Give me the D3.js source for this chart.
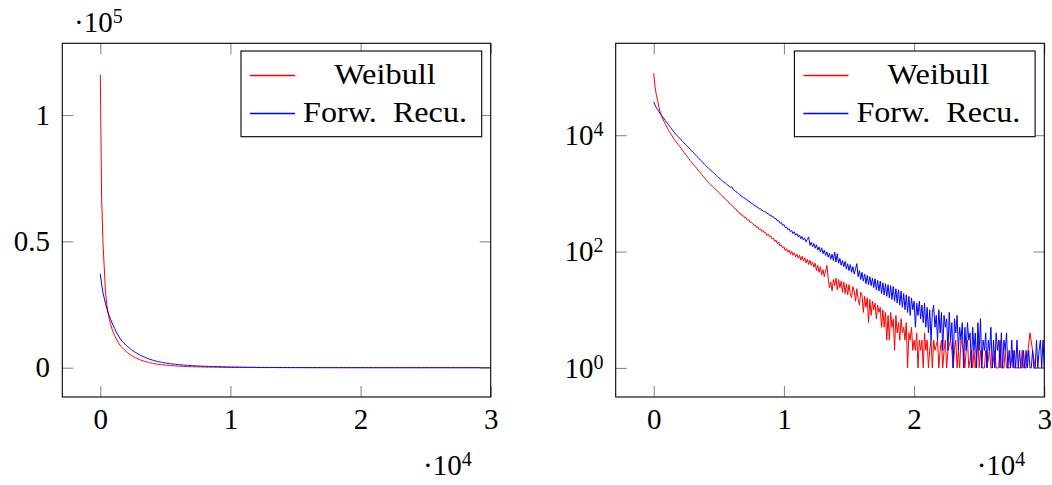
<!DOCTYPE html>
<html>
<head>
<meta charset="utf-8">
<script src="https://d3js.org/d3.v7.min.js"></script>
<style>
  body { margin: 0; background: #fff; }
</style>
</head>
<body>
<svg id="chart" width="1052" height="485"></svg>
<script>
// histogram counts, one value per bin of width binWidth, starting at 0
const binWidth = 100;

const weibull = [
  116000, 68000, 50000, 40000, 30000, 25000, 21500, 19000, 17000, 15300,
  13900, 12700, 11600, 10700, 9800, 9000, 8400, 7850, 7330, 6840,
  6380, 5960, 5560, 5190, 4840, 4520, 4220, 3940, 3670, 3470,
  3240, 3050, 2880, 2690, 2510, 2370, 2240, 2090, 1970, 1840,
  1740, 1640, 1550, 1480, 1410, 1330, 1270, 1200, 1150, 1100,
  1040, 975, 940, 880, 858, 792, 770, 731, 676, 662,
  618, 601, 548, 541, 497, 488, 446, 447, 409, 411,
  378, 381, 347, 352, 318, 322, 306, 281, 286, 259,
  266, 238, 247, 221, 231, 209, 214, 188, 201, 179,
  186, 163, 172, 150, 157, 136, 146, 124, 131, 116,
  121, 104, 112, 98, 106, 90, 101, 86, 95, 81,
  90, 77, 86, 71, 83, 69, 78, 64, 74, 60,
  71, 58, 66, 54, 63, 47, 58, 44, 55, 40,
  49, 37, 46, 58, 35, 24, 30, 21, 33, 26,
  35, 22, 33, 24, 31, 20, 30, 19, 28, 18,
  27, 19, 16, 25, 21, 14, 23, 15, 12, 20,
  18, 9, 17, 11, 16, 6, 15, 8, 14, 10,
  13, 7, 12, 9, 11, 5, 10, 5, 9, 3,
  8, 3, 9, 5, 7, 2, 8, 4, 6, 3,
  7, 4, 5, 3, 6, 1, 4, 3, 5, 2,
  3, 2, 4, 1, 3, 2, 3, 1, 4, 2,
  3, 1, 2, 3, 1, 3, 2, 0, 3, 1,
  2, 3, 1, 2, 3, 1, 2, 0, 3, 2,
  1, 2, 3, 1, 2, 1, 3, 0, 2, 1,
  2, 3, 1, 0, 2, 1, 2, 1, 0, 3,
  1, 2, 1, 0, 1, 2, 1, 0, 2, 1,
  1, 0, 2, 1, 0, 1, 3, 1, 0, 1,
  2, 1, 0, 1, 1, 0, 2, 1, 0, 1,
  1, 0, 1, 2, 1, 0, 1, 0, 0, 4,
  0, 0, 0, 1, 1, 0, 1, 1, 0, 1,
  1
];

const forwRecu = [
  37150, 33100, 29850, 27540, 25400, 23440, 21880, 20420, 19050, 17780,
  16600, 15500, 14450, 13490, 12590, 11750, 10960, 10350, 9770, 9330,
  8810, 8320, 7940, 7500, 7080, 6760, 6380, 6030, 5750, 5430,
  5130, 4900, 4620, 4370, 4170, 3940, 3720, 3550, 3350, 3160,
  3020, 2850, 2720, 2600, 2480, 2370, 2260, 2160, 2040, 1950,
  1860, 1780, 1700, 1620, 1550, 1500, 1430, 1380, 1320, 1270,
  1300, 1168, 1131, 1071, 1046, 988, 967, 902, 889, 838,
  831, 779, 772, 722, 718, 668, 663, 621, 618, 581,
  579, 541, 546, 509, 508, 479, 482, 448, 451, 418,
  426, 393, 398, 366, 369, 336, 340, 307, 314, 283,
  292, 259, 266, 238, 246, 219, 230, 203, 219, 191,
  204, 179, 192, 166, 181, 158, 170, 147, 162, 178,
  128, 145, 121, 138, 114, 131, 106, 120, 98, 116,
  92, 106, 86, 99, 80, 93, 74, 90, 70, 98,
  66, 92, 63, 76, 58, 70, 55, 68, 50, 62,
  47, 60, 44, 55, 41, 50, 62, 37, 47, 33,
  44, 31, 41, 28, 39, 27, 37, 26, 35, 24,
  34, 22, 32, 21, 31, 19, 29, 18, 28, 17,
  27, 16, 26, 15, 25, 14, 23, 13, 22, 12,
  21, 11, 19, 10, 18, 9, 17, 8, 16, 10,
  14, 5, 13, 8, 14, 7, 12, 6, 13, 5,
  11, 4, 10, 3, 9, 12, 5, 8, 3, 10,
  4, 9, 2, 8, 5, 7, 2, 9, 3, 6,
  1, 7, 4, 8, 2, 5, 3, 6, 1, 5,
  2, 6, 3, 4, 1, 5, 2, 4, 1, 6,
  2, 7, 1, 3, 2, 4, 1, 3, 2, 5,
  1, 3, 1, 4, 2, 3, 1, 4, 1, 3,
  2, 4, 1, 2, 1, 3, 1, 2, 1, 3,
  1, 2, 1, 1, 2, 1, 2, 1, 2, 1,
  1, 2, 1, 1, 3, 1, 2, 3, 1, 3,
  1
];

const seriesNames = ["Weibull", "Forw.\u2002Recu."];
const seriesColors = ["#ff0000", "#0000ff"];
const xTicks = [0, 10000, 20000, 30000];
const yTicksLin = [0, 50000, 100000];
const yTicksLog = [1, 100, 10000];

// pick the first installed face (serif preferred, like the LaTeX original)
function pickFont(list) {
  const ctx = document.createElement("canvas").getContext("2d");
  const probe = "Weibull Forw. Recu. 0123456789";
  ctx.font = "40px monospace";
  const base = ctx.measureText(probe).width;
  for (const f of list) {
    ctx.font = `40px "${f}", monospace`;
    if (Math.abs(ctx.measureText(probe).width - base) > 0.5) return f;
  }
  return "sans-serif";
}
const fontName = pickFont(["Liberation Serif", "DejaVu Serif", "Noto Serif", "Tinos", "Liberation Sans"]);
const isSerif = /Serif|Tinos/.test(fontName);
const FONT = `"${fontName}", serif`;

const svg = d3.select("#chart");
const plotTop = 43.3, plotBottom = 397;
const tickLen = 11;
const fontSize = isSerif ? 29 : 27, supSize = isSerif ? 20 : 19;

const toPoints = arr => arr.map((v, i) => ({ x: i * binWidth, y: v }));
const series = [toPoints(weibull), toPoints(forwRecu)];

function drawPanel(id, x0, x1, isLog) {
  const g = svg.append("g").attr("class", id);

  const x = d3.scaleLinear().domain([-2920, 30000]).range([x0, x1]);
  const y = isLog
    ? d3.scaleLog().domain([Math.pow(10, -0.5), Math.pow(10, 5.58)]).range([plotBottom, plotTop])
    : d3.scaleLinear().domain([-11600, 128400]).range([plotBottom, plotTop]);

  g.append("clipPath").attr("id", "clip-" + id)
    .append("rect")
    .attr("x", x0).attr("y", plotTop)
    .attr("width", x1 - x0).attr("height", plotBottom - plotTop);

  // data
  const line = d3.line().x(d => x(d.x)).y(d => y(d.y));
  series.forEach((s, k) => {
    const pts = isLog ? s.filter(d => d.y > 0) : s;
    g.append("path")
      .datum(pts)
      .attr("d", line)
      .attr("fill", "none")
      .attr("stroke", seriesColors[k])
      .attr("stroke-width", 1)
      .attr("stroke-linejoin", "round")
      .attr("clip-path", "url(#clip-" + id + ")");
  });

  // axes, ticks pointing inward on all four sides
  const yTicks = isLog ? yTicksLog : yTicksLin;
  const styleAxis = sel => {
    sel.attr("font-family", null).attr("font-size", null);
    sel.select(".domain").remove();
    sel.selectAll(".tick line").attr("stroke", "#808080").attr("stroke-width", 1);
    sel.selectAll("text").style("font-family", FONT).style("font-size", fontSize + "px").attr("fill", "#000");
  };

  g.append("g").attr("transform", `translate(0,${plotBottom})`)
    .call(d3.axisBottom(x).tickValues(xTicks).tickSizeInner(-tickLen).tickSizeOuter(0)
      .tickPadding(isSerif ? 11.4 : 12.2).tickFormat(d => d / 10000))
    .call(styleAxis);
  g.append("g").attr("transform", `translate(0,${plotTop})`)
    .call(d3.axisTop(x).tickValues(xTicks).tickSizeInner(-tickLen).tickSizeOuter(0).tickFormat(""))
    .call(styleAxis);

  const yLeft = g.append("g").attr("transform", `translate(${x0},0)`)
    .call(d3.axisLeft(y).tickValues(yTicks).tickSizeInner(-tickLen).tickSizeOuter(0)
      .tickPadding(12.3).tickFormat(d => isLog ? "" : String(d / 100000)))
    .call(styleAxis);
  g.append("g").attr("transform", `translate(${x1},0)`)
    .call(d3.axisRight(y).tickValues(yTicks).tickSizeInner(-tickLen).tickSizeOuter(0).tickFormat(""))
    .call(styleAxis);

  if (isLog) {
    yLeft.selectAll(".tick text").each(function (d) {
      const t = d3.select(this).text(null);
      t.append("tspan").text("10");
      t.append("tspan").style("font-size", supSize + "px").attr("dy", -9).text(Math.round(Math.log10(d)));
    });
  }

  // frame
  g.append("rect")
    .attr("x", x0).attr("y", plotTop)
    .attr("width", x1 - x0).attr("height", plotBottom - plotTop)
    .attr("fill", "none").attr("stroke", "#000").attr("stroke-width", 1.1);

  // scale labels
  if (!isLog) {
    const t = g.append("text").attr("x", 74).attr("y", 32.3)
      .style("font-family", FONT).style("font-size", fontSize + "px");
    t.append("tspan").text("\u00b710");
    t.append("tspan").style("font-size", supSize + "px").attr("dy", -9).text("5");
  }
  const xl = g.append("text").attr("x", x1 - 19).attr("y", 475)
    .attr("text-anchor", "end")
    .style("font-family", FONT).style("font-size", fontSize + "px");
  xl.append("tspan").text("\u00b710");
  xl.append("tspan").style("font-size", supSize + "px").attr("dy", -9).text("4");

  // legend
  const lx = x0 + 178.7, ly = 51;
  const lg = g.append("g");
  lg.append("rect")
    .attr("x", lx).attr("y", ly).attr("width", 240.7).attr("height", 85.7)
    .attr("fill", "#fff").attr("stroke", "#000").attr("stroke-width", 1.1);
  const rowY = [75.5, 113.5];
  const textY = [84.3, 121.7];
  const textW = [101.7, 164];
  const sample = d3.line();
  seriesNames.forEach((name, k) => {
    lg.append("path")
      .attr("d", sample([[lx + 9, rowY[k]], [lx + 54, rowY[k]]]))
      .attr("fill", "none")
      .attr("stroke", seriesColors[k])
      .attr("stroke-width", 1.5);
    lg.append("text")
      .attr("x", lx + 144).attr("y", textY[k])
      .attr("text-anchor", "middle")
      .style("font-family", FONT).style("font-size", fontSize + "px")
      .attr("textLength", textW[k]).attr("lengthAdjust", "spacingAndGlyphs")
      .text(name);
  });
}

drawPanel("lin", 62.3, 490.7, false);
drawPanel("log", 615.7, 1044.3, true);
</script>
</body>
</html>
